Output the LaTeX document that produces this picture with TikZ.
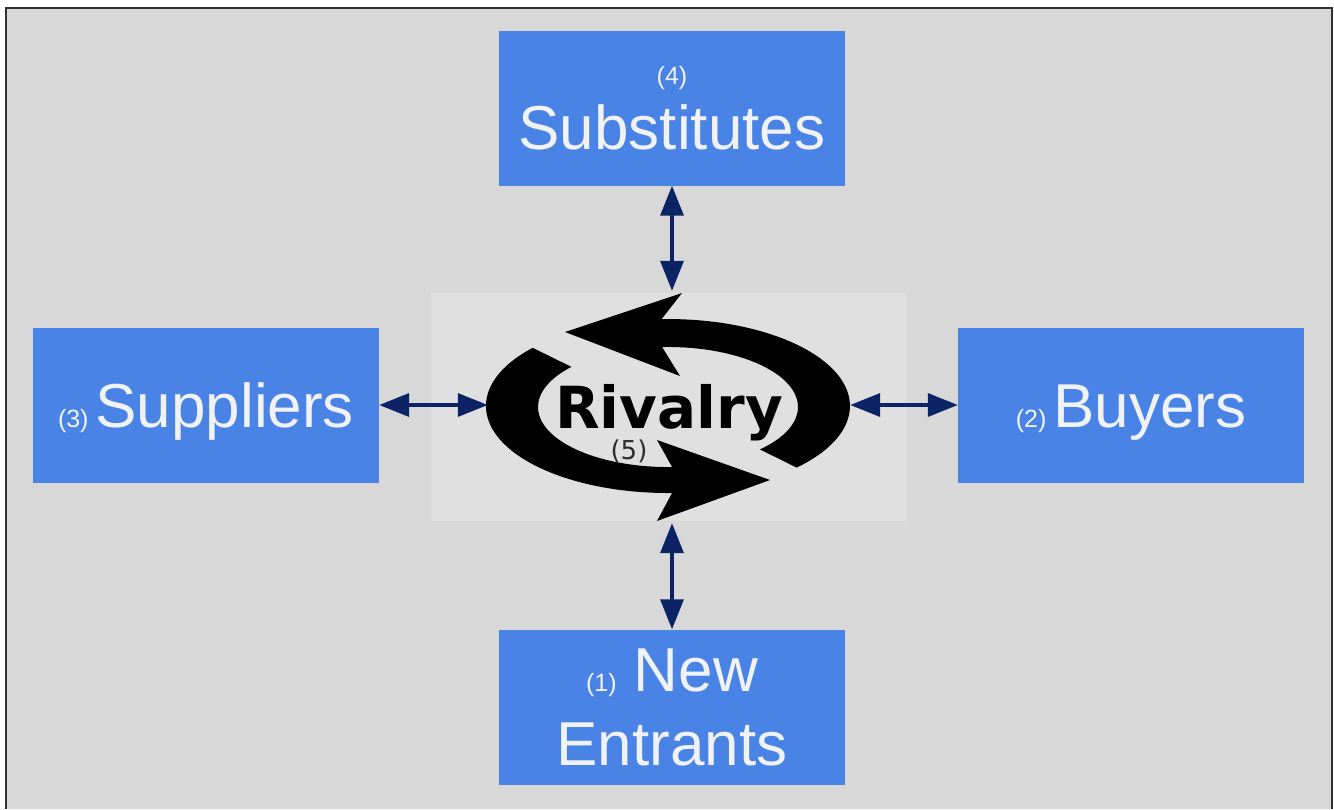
\documentclass[tikz,border=0pt]{standalone}
\usepackage{xcolor}
\usepackage{fontspec}
\setmainfont{Liberation Sans}
\newfontfamily\rivfont{DejaVu Sans}
\usepackage{tikz}
\usetikzlibrary{positioning,arrows.meta}
\newcommand{\bigfont}{\fontsize{62}{74}\selectfont}
\newcommand{\smallnum}[1]{{\fontsize{25}{30}\selectfont #1}}
\tikzset{c-force/.style={rectangle, minimum width=346pt, minimum height=155pt, inner sep=0pt, text centered, fill=c_box, text=c_text, font=\bigfont},
arrow/.style={line width=3.5pt, <->, >={Triangle[length=30pt, width=23pt]}, draw=c_navy}}
\definecolor{c_back}{RGB}{216,216,216}
\definecolor{c_panel}{RGB}{224,224,224}
\definecolor{c_frame}{RGB}{51,51,51}
\definecolor{c_box}{RGB}{72,131,229}
\definecolor{c_text}{RGB}{240,242,245}
\definecolor{c_navy}{RGB}{12,36,102}
\definecolor{c_dark}{RGB}{45,45,45}
\begin{document}
\begin{tikzpicture}[x=1pt, y=-1pt, node distance=300pt]
\useasboundingbox (0,0) rectangle (1334,809);
\fill [c_back] (6,8) rectangle (1332,809);
\draw [c_frame, line width=2pt] (6,809) -- (6,8) -- (1332,8) -- (1332,809);
\node (panel) [rectangle, fill=c_panel, minimum width=475pt, minimum height=228pt] at (668,407) {};
% the two turning arrows
\fill (565,332) -- (682,293) -- (661.6,319.1) arc[start angle=-92, end angle=45, x radius=182, y radius=87]
  -- (759.9,449.4) arc[start angle=45, end angle=-92.6, x radius=130, y radius=60] -- (680,376) -- cycle;
\fill (532.7,347.8) arc[start angle=222, end angle=88.7, x radius=182, y radius=87]
  -- (657,521) -- (770,480) -- (657,440) -- (672.1,467) arc[start angle=88.2, end angle=222, x radius=130, y radius=60] -- cycle;
\node (riv) [rectangle, minimum width=362pt, minimum height=232pt, inner sep=0pt] at (669,407) {};
\node (rivtxt) [inner sep=0pt, text height=42pt, text depth=0pt, font=\rivfont\bfseries\fontsize{58}{62}\selectfont] at (riv) {Rivalry};
\node (num5) [inner sep=0pt, font=\rivfont\fontsize{26}{30}\selectfont, text=c_dark] at (629,451) {(5)};
\node (sub) [c-force, above of=riv, xshift=3pt, yshift=-1pt, align=center] {\smallnum{(4)}\\[-9pt]Substitutes};
\node (ne) [c-force, below of=riv, xshift=3pt, align=center] {\smallnum{(1)} New\\Entrants};
\node (sup) [c-force, left of=riv, xshift=-163pt, yshift=2pt, text height=45pt, text depth=0pt] {\smallnum{(3) }Suppliers};
\node (buy) [c-force, right of=riv, xshift=162pt, yshift=2pt, text height=45pt, text depth=0pt] {\smallnum{(2) }Buyers};
\draw [arrow] (sub.south) -- (sub.south |- riv.north);
\draw [arrow] (ne.north) -- (ne.north |- riv.south);
\draw [arrow] (sup.east) -- (sup.east -| riv.west);
\draw [arrow] (buy.west) -- (buy.west -| riv.east);
\end{tikzpicture}
\end{document}
